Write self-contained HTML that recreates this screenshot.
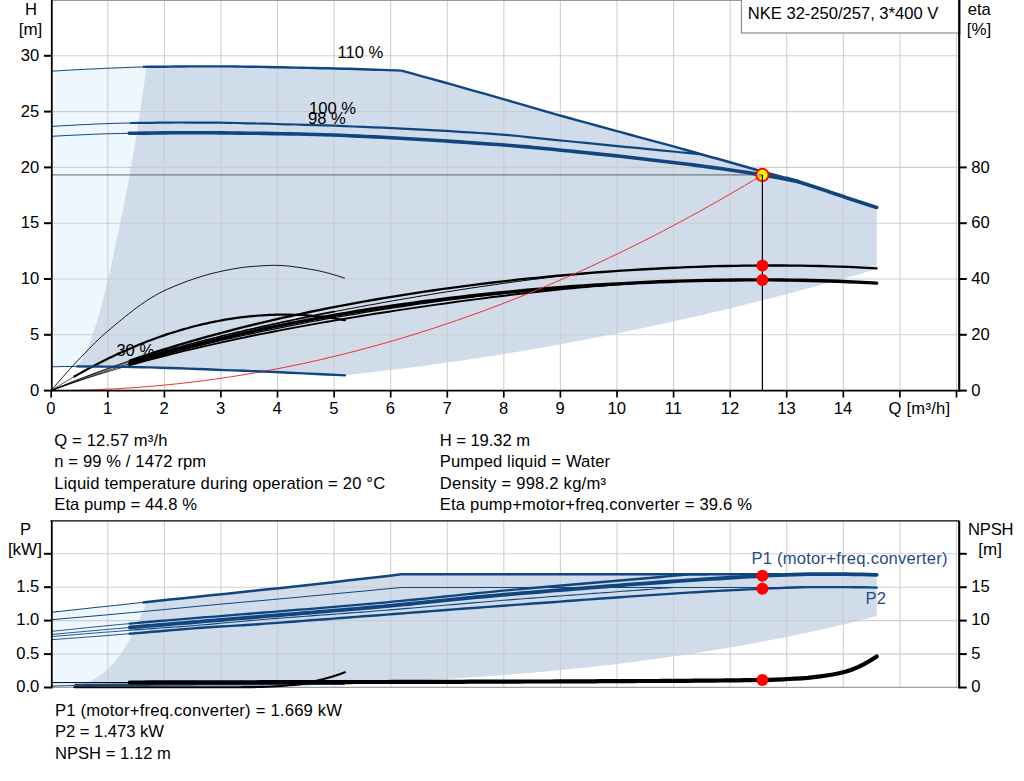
<!DOCTYPE html>
<html><head><meta charset="utf-8"><title>Pump curve</title>
<style>html,body{margin:0;padding:0;background:#fff;}svg{display:block;}text{font-family:"Liberation Sans",sans-serif;}</style></head>
<body>
<svg width="1024" height="781" viewBox="0 0 1024 781" font-family="'Liberation Sans', sans-serif" font-size="16.6">
<rect width="1024" height="781" fill="#fff"/>
<polygon points="51.2,71.2 53.6,71.0 56.1,70.9 58.5,70.7 60.9,70.6 63.4,70.4 65.8,70.3 68.3,70.2 70.7,70.0 73.1,69.9 75.6,69.8 78.0,69.6 80.4,69.5 82.9,69.4 85.3,69.3 87.8,69.2 90.2,69.0 92.6,68.9 95.1,68.8 97.5,68.7 99.9,68.6 102.4,68.5 104.8,68.4 107.3,68.3 109.7,68.2 112.1,68.1 114.6,68.0 117.0,67.9 119.4,67.7 121.9,67.6 124.3,67.5 126.8,67.4 129.2,67.3 131.6,67.3 134.1,67.2 136.5,67.1 138.9,67.0 141.4,67.0 143.8,66.9 146.3,66.9 146.3,66.9 145.6,72.0 144.9,77.1 144.3,82.2 143.6,87.2 142.9,92.3 142.2,97.4 141.4,102.5 140.7,107.6 139.9,112.7 139.2,117.7 138.4,122.8 137.6,127.9 136.8,133.0 136.0,138.1 135.1,143.1 134.3,148.2 133.4,153.3 132.5,158.4 131.6,163.5 130.7,168.6 129.8,173.6 128.8,178.7 127.9,183.8 126.9,188.9 125.9,194.0 125.0,199.1 124.0,204.1 123.0,209.2 122.0,214.3 120.9,219.4 119.9,224.5 118.8,229.6 117.8,234.6 116.7,239.7 115.6,244.8 114.5,249.9 113.5,255.0 112.4,260.0 111.3,265.1 110.2,270.2 109.0,275.3 107.8,280.4 106.5,285.5 105.3,290.5 104.0,295.6 102.7,300.7 101.4,305.8 100.0,310.9 98.6,316.0 97.1,321.0 95.5,326.1 93.8,331.2 91.9,336.3 90.1,341.4 88.0,346.4 85.8,351.5 83.3,356.6 80.4,361.7 77.2,366.8 51.2,366.8" fill="#eef6fe"/>
<polygon points="146.3,66.9 152.8,66.8 159.3,66.7 165.9,66.6 172.4,66.6 179.0,66.5 185.5,66.4 192.1,66.4 198.6,66.4 205.1,66.4 211.7,66.4 218.2,66.4 224.8,66.4 231.3,66.5 237.9,66.5 244.4,66.6 250.9,66.7 257.5,66.8 264.0,67.0 270.6,67.1 277.1,67.2 283.7,67.3 290.2,67.5 296.7,67.6 303.3,67.8 309.8,67.9 316.4,68.0 322.9,68.2 329.5,68.3 336.0,68.5 342.5,68.7 349.1,68.9 355.6,69.1 362.2,69.3 368.7,69.5 375.3,69.7 381.8,69.9 388.3,70.1 394.9,70.4 401.4,70.6 401.4,70.6 409.5,72.8 417.5,75.0 425.6,77.2 433.7,79.5 441.7,81.7 449.8,84.0 457.8,86.2 465.9,88.5 473.9,90.8 482.0,93.1 490.0,95.4 498.1,97.6 506.2,100.0 514.2,102.3 522.3,104.7 530.3,107.0 538.4,109.4 546.4,111.7 554.5,113.9 562.5,116.2 570.6,118.4 578.7,120.7 586.7,122.9 594.8,125.1 602.8,127.3 610.9,129.4 618.9,131.6 627.0,133.8 635.0,136.0 643.1,138.2 651.1,140.4 659.2,142.6 667.3,144.8 675.3,147.0 683.4,149.2 691.4,151.5 699.5,153.7 707.5,156.0 715.6,158.3 723.6,160.6 731.7,162.9 739.8,165.2 747.8,167.5 755.9,169.7 763.9,172.0 772.0,174.3 780.0,176.5 788.1,178.7 796.1,181.1 804.2,183.5 812.3,186.2 820.3,188.9 828.4,191.6 836.4,194.3 844.5,197.0 852.5,199.6 860.6,202.2 868.6,204.8 876.7,207.4 876.7,268.9 867.7,271.6 858.7,274.2 849.7,276.8 840.6,279.3 831.6,281.8 822.6,284.3 813.6,286.8 804.6,289.2 795.6,291.7 786.6,294.0 777.5,296.4 768.5,298.7 759.5,301.0 750.5,303.3 741.5,305.5 732.5,307.7 723.5,309.9 714.4,312.0 705.4,314.2 696.4,316.2 687.4,318.3 678.4,320.3 669.4,322.3 660.4,324.3 651.3,326.3 642.3,328.2 633.3,330.1 624.3,331.9 615.3,333.8 606.3,335.6 597.3,337.3 588.2,339.1 579.2,340.8 570.2,342.5 561.2,344.1 552.2,345.8 543.2,347.4 534.2,348.9 525.1,350.5 516.1,352.0 507.1,353.5 498.1,354.9 489.1,356.3 480.1,357.7 471.1,359.1 462.0,360.4 453.0,361.7 444.0,363.0 435.0,364.3 426.0,365.5 417.0,366.7 408.0,367.8 398.9,369.0 389.9,370.1 380.9,371.1 371.9,372.2 362.9,373.2 353.9,374.2 344.9,375.2 344.9,375.4 338.0,375.0 331.1,374.7 324.3,374.3 317.4,374.0 310.5,373.7 303.7,373.4 296.8,373.1 290.0,372.7 283.1,372.4 276.2,372.1 269.4,371.8 262.5,371.6 255.6,371.3 248.8,371.0 241.9,370.7 235.1,370.4 228.2,370.2 221.3,369.9 214.5,369.7 207.6,369.4 200.7,369.1 193.9,368.9 187.0,368.6 180.2,368.3 173.3,368.1 166.4,367.9 159.6,367.7 152.7,367.5 145.8,367.3 139.0,367.2 132.1,367.0 125.3,366.9 118.4,366.8 111.5,366.7 104.7,366.6 97.8,366.6 91.0,366.5 84.1,366.5 77.2,366.4 77.2,366.8 80.4,361.7 83.3,356.6 85.8,351.5 88.0,346.4 90.1,341.4 91.9,336.3 93.8,331.2 95.5,326.1 97.1,321.0 98.6,316.0 100.0,310.9 101.4,305.8 102.7,300.7 104.0,295.6 105.3,290.5 106.5,285.5 107.8,280.4 109.0,275.3 110.2,270.2 111.3,265.1 112.4,260.0 113.5,255.0 114.5,249.9 115.6,244.8 116.7,239.7 117.8,234.6 118.8,229.6 119.9,224.5 120.9,219.4 122.0,214.3 123.0,209.2 124.0,204.1 125.0,199.1 125.9,194.0 126.9,188.9 127.9,183.8 128.8,178.7 129.8,173.6 130.7,168.6 131.6,163.5 132.5,158.4 133.4,153.3 134.3,148.2 135.1,143.1 136.0,138.1 136.8,133.0 137.6,127.9 138.4,122.8 139.2,117.7 139.9,112.7 140.7,107.6 141.4,102.5 142.2,97.4 142.9,92.3 143.6,87.2 144.3,82.2 144.9,77.1 145.6,72.0 146.3,66.9" fill="#d0dce9"/>
<line x1="107.8" y1="0" x2="107.8" y2="390.6" stroke="#c9cccf" stroke-width="1.1" opacity="0.9"/>
<line x1="164.4" y1="0" x2="164.4" y2="390.6" stroke="#c9cccf" stroke-width="1.1" opacity="0.9"/>
<line x1="220.9" y1="0" x2="220.9" y2="390.6" stroke="#c9cccf" stroke-width="1.1" opacity="0.9"/>
<line x1="277.5" y1="0" x2="277.5" y2="390.6" stroke="#c9cccf" stroke-width="1.1" opacity="0.9"/>
<line x1="334.1" y1="0" x2="334.1" y2="390.6" stroke="#c9cccf" stroke-width="1.1" opacity="0.9"/>
<line x1="390.7" y1="0" x2="390.7" y2="390.6" stroke="#c9cccf" stroke-width="1.1" opacity="0.9"/>
<line x1="447.3" y1="0" x2="447.3" y2="390.6" stroke="#c9cccf" stroke-width="1.1" opacity="0.9"/>
<line x1="503.8" y1="0" x2="503.8" y2="390.6" stroke="#c9cccf" stroke-width="1.1" opacity="0.9"/>
<line x1="560.4" y1="0" x2="560.4" y2="390.6" stroke="#c9cccf" stroke-width="1.1" opacity="0.9"/>
<line x1="617.0" y1="0" x2="617.0" y2="390.6" stroke="#c9cccf" stroke-width="1.1" opacity="0.9"/>
<line x1="673.6" y1="0" x2="673.6" y2="390.6" stroke="#c9cccf" stroke-width="1.1" opacity="0.9"/>
<line x1="730.2" y1="0" x2="730.2" y2="390.6" stroke="#c9cccf" stroke-width="1.1" opacity="0.9"/>
<line x1="786.7" y1="0" x2="786.7" y2="390.6" stroke="#c9cccf" stroke-width="1.1" opacity="0.9"/>
<line x1="843.3" y1="0" x2="843.3" y2="390.6" stroke="#c9cccf" stroke-width="1.1" opacity="0.9"/>
<line x1="899.9" y1="0" x2="899.9" y2="390.6" stroke="#c9cccf" stroke-width="1.1" opacity="0.9"/>
<line x1="956.5" y1="0" x2="956.5" y2="390.6" stroke="#c9cccf" stroke-width="1.1" opacity="0.9"/>
<line x1="51.2" y1="334.8" x2="959.2" y2="334.8" stroke="#c9cccf" stroke-width="1.1" opacity="0.9"/>
<line x1="51.2" y1="279.0" x2="959.2" y2="279.0" stroke="#c9cccf" stroke-width="1.1" opacity="0.9"/>
<line x1="51.2" y1="223.2" x2="959.2" y2="223.2" stroke="#c9cccf" stroke-width="1.1" opacity="0.9"/>
<line x1="51.2" y1="167.4" x2="959.2" y2="167.4" stroke="#c9cccf" stroke-width="1.1" opacity="0.9"/>
<line x1="51.2" y1="111.6" x2="959.2" y2="111.6" stroke="#c9cccf" stroke-width="1.1" opacity="0.9"/>
<line x1="51.2" y1="55.8" x2="959.2" y2="55.8" stroke="#c9cccf" stroke-width="1.1" opacity="0.9"/>
<line x1="51.2" y1="0.5" x2="959.2" y2="0.5" stroke="#9a9a9a" stroke-width="1"/>
<line x1="51.2" y1="174.9" x2="762.4" y2="174.9" stroke="#4c5258" stroke-width="1.9" opacity="0.5"/>
<polyline points="51.2,390.6 54.9,386.1 58.6,381.8 62.4,377.5 66.1,373.3 69.8,369.2 73.5,365.1 77.2,361.1 80.9,357.2 84.7,353.4 88.4,349.5 92.1,345.7 95.8,342.0 99.5,338.5 103.2,335.0 107.0,331.8 110.7,328.6 114.4,325.5 118.1,322.4 121.8,319.4 125.5,316.4 129.3,313.4 133.0,310.5 136.7,307.7 140.4,305.0 144.1,302.4 147.8,299.9 151.6,297.6 155.3,295.4 159.0,293.3 162.7,291.4 166.4,289.7 170.1,288.1 173.9,286.5 177.6,284.9 181.3,283.5 185.0,282.0 188.7,280.7 192.4,279.4 196.2,278.1 199.9,276.9 203.6,275.8 207.3,274.7 211.0,273.7 214.8,272.8 218.5,271.9 222.2,271.1 225.9,270.3 229.6,269.6 233.3,268.9 237.1,268.3 240.8,267.7 244.5,267.2 248.2,266.8 251.9,266.5 255.6,266.2 259.4,266.0 263.1,265.7 266.8,265.5 270.5,265.4 274.2,265.3 277.9,265.4 281.7,265.5 285.4,265.8 289.1,266.1 292.8,266.6 296.5,267.1 300.2,267.6 304.0,268.2 307.7,268.8 311.4,269.5 315.1,270.1 318.8,270.8 322.5,271.7 326.3,272.6 330.0,273.6 333.7,274.7 337.4,275.8 341.1,277.0 344.9,278.2" fill="none" stroke="#000" stroke-width="0.9" />
<polyline points="74.4,376.5 77.8,374.6 81.2,372.6 84.7,370.8 88.1,368.9 91.5,367.1 94.9,365.3 98.4,363.5 101.8,361.7 105.2,360.0 108.6,358.3 112.1,356.7 115.5,355.1 118.9,353.5 122.3,351.9 125.7,350.4 129.2,348.9 132.6,347.4 136.0,346.0 139.4,344.6 142.9,343.2 146.3,341.8 149.7,340.5 153.1,339.2 156.6,338.0 160.0,336.8 163.4,335.6 166.8,334.4 170.3,333.3 173.7,332.2 177.1,331.2 180.5,330.1 183.9,329.1 187.4,328.2 190.8,327.2 194.2,326.3 197.6,325.5 201.1,324.6 204.5,323.8 207.9,323.1 211.3,322.3 214.8,321.6 218.2,321.0 221.6,320.3 225.0,319.7 228.5,319.1 231.9,318.6 235.3,318.1 238.7,317.6 242.1,317.2 245.6,316.8 249.0,316.4 252.4,316.1 255.8,315.8 259.3,315.5 262.7,315.3 266.1,315.1 269.5,314.9 273.0,314.8 276.4,314.7 279.8,314.7 283.2,314.6 286.7,314.6 290.1,314.7 293.5,314.8 296.9,314.9 300.3,315.0 303.8,315.2 307.2,315.4 310.6,315.7 314.0,316.0 317.5,316.3 320.9,316.7 324.3,317.1 327.7,317.5 331.2,318.0 334.6,318.5 338.0,319.0 341.4,319.6 344.9,320.2" fill="none" stroke="#000" stroke-width="2.2" stroke-linecap="round"/>
<polyline points="51.2,390.5 51.5,390.3 51.8,390.2 52.1,390.0 52.4,389.8 52.7,389.6 53.0,389.4 53.3,389.2 53.5,389.0 53.8,388.9 54.1,388.7 54.4,388.5 54.7,388.3 55.0,388.1 55.3,387.9 55.6,387.8 55.9,387.6 56.2,387.4 56.5,387.2 56.8,387.0 57.1,386.9 57.4,386.7 57.7,386.5 58.0,386.3 58.2,386.1 58.5,386.0 58.8,385.8 59.1,385.6 59.4,385.4 59.7,385.2 60.0,385.1 60.3,384.9 60.6,384.7 60.9,384.5 61.2,384.3 61.5,384.2 61.8,384.0 62.1,383.8 62.4,383.6 62.7,383.4 62.9,383.3 63.2,383.1 63.5,382.9 63.8,382.7 64.1,382.6 64.4,382.4 64.7,382.2 65.0,382.0 65.3,381.9 65.6,381.7 65.9,381.5 66.2,381.3 66.5,381.2 66.8,381.0 67.1,380.8 67.4,380.6 67.6,380.5 67.9,380.3 68.2,380.1 68.5,379.9 68.8,379.8 69.1,379.6 69.4,379.4 69.7,379.3 70.0,379.1 70.3,378.9 70.6,378.7 70.9,378.6 71.2,378.4 71.5,378.2 71.8,378.1 72.0,377.9 72.3,377.7 72.6,377.5 72.9,377.4 73.2,377.2 73.5,377.0 73.8,376.9 74.1,376.7 74.4,376.5" fill="none" stroke="#000" stroke-width="0.8" />
<polyline points="51.2,390.6 52.2,390.2 53.2,389.7 54.2,389.3 55.2,388.9 56.2,388.5 57.2,388.1 58.2,387.7 59.2,387.2 60.2,386.8 61.2,386.4 62.2,386.0 63.1,385.6 64.1,385.2 65.1,384.8 66.1,384.4 67.1,384.0 68.1,383.6 69.1,383.2 70.1,382.8 71.1,382.4 72.1,382.0 73.1,381.6 74.1,381.2 75.1,380.8 76.1,380.4 77.1,380.0 78.1,379.6 79.1,379.2 80.1,378.8 81.1,378.4 82.1,378.1 83.1,377.7 84.1,377.3 85.0,376.9 86.0,376.5 87.0,376.1 88.0,375.7 89.0,375.4 90.0,375.0 91.0,374.6 92.0,374.2 93.0,373.8 94.0,373.5 95.0,373.1 96.0,372.7 97.0,372.4 98.0,372.0 99.0,371.6 100.0,371.2 101.0,370.9 102.0,370.5 103.0,370.1 104.0,369.8 105.0,369.4 106.0,369.0 106.9,368.7 107.9,368.3 108.9,368.0 109.9,367.6 110.9,367.2 111.9,366.9 112.9,366.5 113.9,366.2 114.9,365.8 115.9,365.5 116.9,365.1 117.9,364.7 118.9,364.4 119.9,364.0 120.9,363.7 121.9,363.3 122.9,363.0 123.9,362.7 124.9,362.3 125.9,362.0 126.9,361.6 127.9,361.3 128.9,360.9 129.8,360.6" fill="none" stroke="#000" stroke-width="0.8" />
<polyline points="51.2,390.6 52.2,390.2 53.2,389.7 54.2,389.3 55.2,388.9 56.2,388.5 57.2,388.1 58.2,387.7 59.2,387.3 60.2,386.9 61.2,386.5 62.2,386.1 63.1,385.7 64.1,385.3 65.1,384.9 66.1,384.5 67.1,384.1 68.1,383.7 69.1,383.3 70.1,382.9 71.1,382.5 72.1,382.2 73.1,381.8 74.1,381.4 75.1,381.0 76.1,380.6 77.1,380.2 78.1,379.9 79.1,379.5 80.1,379.1 81.1,378.7 82.1,378.4 83.1,378.0 84.1,377.6 85.0,377.2 86.0,376.9 87.0,376.5 88.0,376.1 89.0,375.8 90.0,375.4 91.0,375.0 92.0,374.7 93.0,374.3 94.0,374.0 95.0,373.6 96.0,373.2 97.0,372.9 98.0,372.5 99.0,372.2 100.0,371.8 101.0,371.5 102.0,371.1 103.0,370.8 104.0,370.4 105.0,370.1 106.0,369.7 106.9,369.4 107.9,369.1 108.9,368.7 109.9,368.4 110.9,368.0 111.9,367.7 112.9,367.4 113.9,367.0 114.9,366.7 115.9,366.4 116.9,366.0 117.9,365.7 118.9,365.4 119.9,365.0 120.9,364.7 121.9,364.4 122.9,364.0 123.9,363.7 124.9,363.4 125.9,363.1 126.9,362.8 127.9,362.4 128.9,362.1 129.8,361.8" fill="none" stroke="#000" stroke-width="0.8" />
<polyline points="51.2,390.6 52.2,390.2 53.2,389.8 54.2,389.4 55.2,389.0 56.2,388.7 57.2,388.3 58.2,387.9 59.2,387.6 60.2,387.2 61.2,386.8 62.2,386.4 63.1,386.1 64.1,385.7 65.1,385.3 66.1,385.0 67.1,384.6 68.1,384.3 69.1,383.9 70.1,383.5 71.1,383.2 72.1,382.8 73.1,382.5 74.1,382.1 75.1,381.7 76.1,381.4 77.1,381.0 78.1,380.7 79.1,380.3 80.1,380.0 81.1,379.6 82.1,379.3 83.1,378.9 84.1,378.6 85.0,378.2 86.0,377.9 87.0,377.5 88.0,377.2 89.0,376.9 90.0,376.5 91.0,376.2 92.0,375.8 93.0,375.5 94.0,375.2 95.0,374.8 96.0,374.5 97.0,374.1 98.0,373.8 99.0,373.5 100.0,373.1 101.0,372.8 102.0,372.5 103.0,372.2 104.0,371.8 105.0,371.5 106.0,371.2 106.9,370.8 107.9,370.5 108.9,370.2 109.9,369.9 110.9,369.5 111.9,369.2 112.9,368.9 113.9,368.6 114.9,368.3 115.9,367.9 116.9,367.6 117.9,367.3 118.9,367.0 119.9,366.7 120.9,366.3 121.9,366.0 122.9,365.7 123.9,365.4 124.9,365.1 125.9,364.8 126.9,364.5 127.9,364.2 128.9,363.9 129.8,363.5" fill="none" stroke="#000" stroke-width="0.8" />
<polyline points="51.2,390.5 52.2,390.2 53.2,389.8 54.2,389.5 55.2,389.1 56.2,388.7 57.2,388.4 58.2,388.0 59.2,387.7 60.2,387.3 61.2,387.0 62.2,386.6 63.1,386.3 64.1,385.9 65.1,385.6 66.1,385.2 67.1,384.9 68.1,384.5 69.1,384.2 70.1,383.9 71.1,383.5 72.1,383.2 73.1,382.8 74.1,382.5 75.1,382.2 76.1,381.8 77.1,381.5 78.1,381.2 79.1,380.8 80.1,380.5 81.1,380.2 82.1,379.8 83.1,379.5 84.1,379.2 85.0,378.9 86.0,378.5 87.0,378.2 88.0,377.9 89.0,377.6 90.0,377.3 91.0,376.9 92.0,376.6 93.0,376.3 94.0,376.0 95.0,375.7 96.0,375.3 97.0,375.0 98.0,374.7 99.0,374.4 100.0,374.1 101.0,373.8 102.0,373.5 103.0,373.2 104.0,372.9 105.0,372.6 106.0,372.3 106.9,372.0 107.9,371.7 108.9,371.4 109.9,371.1 110.9,370.8 111.9,370.5 112.9,370.2 113.9,369.9 114.9,369.6 115.9,369.3 116.9,369.0 117.9,368.7 118.9,368.4 119.9,368.1 120.9,367.8 121.9,367.5 122.9,367.2 123.9,366.9 124.9,366.7 125.9,366.4 126.9,366.1 127.9,365.8 128.9,365.5 129.8,365.2" fill="none" stroke="#000" stroke-width="0.8" />
<polyline points="129.8,361.8 132.4,361.0 135.0,360.2 137.6,359.3 140.2,358.5 142.8,357.7 145.4,356.9 147.9,356.2 150.5,355.4 153.1,354.6 155.7,353.8 158.3,353.1 160.9,352.3 163.5,351.6 166.0,350.8 168.6,350.1 171.2,349.4 173.8,348.6 176.4,347.9 179.0,347.2 181.6,346.5 184.1,345.8 186.7,345.1 189.3,344.4 191.9,343.7 194.5,343.0 197.1,342.3 199.7,341.7 202.2,341.0 204.8,340.3 207.4,339.7 210.0,339.0 212.6,338.4 215.2,337.7 217.8,337.1 220.3,336.4 222.9,335.8 225.5,335.2 228.1,334.5 230.7,333.9 233.3,333.3 235.9,332.7 238.4,332.1 241.0,331.5 243.6,330.8 246.2,330.2 248.8,329.7 251.4,329.1 253.9,328.5 256.5,327.9 259.1,327.3 261.7,326.7 264.3,326.1 266.9,325.6 269.5,325.0 272.0,324.4 274.6,323.9 277.2,323.3 279.8,322.8 282.4,322.2 285.0,321.6 287.6,321.1 290.1,320.6 292.7,320.0 295.3,319.5 297.9,318.9 300.5,318.4 303.1,317.9 305.7,317.3 308.2,316.8 310.8,316.3 313.4,315.8 316.0,315.2 318.6,314.7 321.2,314.2 323.8,313.7 326.3,313.2 328.9,312.7 331.5,312.2 334.1,311.7" fill="none" stroke="#000" stroke-width="1.7" stroke-linecap="round"/>
<polyline points="334.1,311.7 337.5,311.0 341.0,310.4 344.4,309.7 347.9,309.0 351.3,308.4 354.7,307.8 358.2,307.1 361.6,306.5 365.0,305.8 368.5,305.2 371.9,304.6 375.4,304.0 378.8,303.4 382.2,302.7 385.7,302.1 389.1,301.5 392.5,300.9 396.0,300.3 399.4,299.7 402.9,299.1 406.3,298.5 409.7,298.0 413.2,297.4 416.6,296.8 420.0,296.2 423.5,295.6 426.9,295.1 430.4,294.5 433.8,293.9 437.2,293.4 440.7,292.8 444.1,292.3 447.5,291.7 451.0,291.2 454.4,290.7 457.9,290.1 461.3,289.6 464.7,289.1 468.2,288.5 471.6,288.0 475.0,287.5 478.5,287.0 481.9,286.5 485.4,286.0 488.8,285.5 492.2,285.0 495.7,284.5 499.1,284.0 502.6,283.5 506.0,283.0 509.4,282.6 512.9,282.1 516.3,281.6 519.7,281.2 523.2,280.7 526.6,280.3 530.1,279.8 533.5,279.4 536.9,279.0 540.4,278.5 543.8,278.1 547.2,277.7 550.7,277.3 554.1,276.9 557.6,276.5 561.0,276.1 564.4,275.7 567.9,275.3 571.3,275.0 574.7,274.6 578.2,274.2 581.6,273.9 585.1,273.5 588.5,273.2 591.9,272.9 595.4,272.5 598.8,272.2 602.2,271.9 605.7,271.6" fill="none" stroke="#000" stroke-width="1.0" stroke-linecap="round"/>
<polyline points="129.8,364.4 136.2,362.5 142.5,360.7 148.8,358.9 155.1,357.1 161.4,355.4 167.7,353.7 174.0,352.1 180.3,350.4 186.6,348.8 192.9,347.2 199.3,345.7 205.6,344.2 211.9,342.6 218.2,341.2 224.5,339.7 230.8,338.3 237.1,336.9 243.4,335.5 249.7,334.1 256.0,332.8 262.4,331.4 268.7,330.1 275.0,328.9 281.3,327.6 287.6,326.3 293.9,325.1 300.2,323.9 306.5,322.7 312.8,321.5 319.1,320.4 325.4,319.2 331.8,318.1 338.1,317.0 344.4,315.9 350.7,314.8 357.0,313.8 363.3,312.7 369.6,311.7 375.9,310.7 382.2,309.7 388.5,308.7 394.9,307.7 401.2,306.8 407.5,305.9 413.8,304.9 420.1,304.0 426.4,303.1 432.7,302.2 439.0,301.4 445.3,300.5 451.6,299.7 458.0,298.9 464.3,298.1 470.6,297.3 476.9,296.5 483.2,295.7 489.5,295.0 495.8,294.3 502.1,293.6 508.4,292.9 514.7,292.2 521.1,291.5 527.4,290.9 533.7,290.3 540.0,289.7 546.3,289.1 552.6,288.5 558.9,287.9 565.2,287.4 571.5,286.9 577.8,286.4 584.1,285.9 590.5,285.5 596.8,285.0 603.1,284.6 609.4,284.2 615.7,283.9 622.0,283.5 628.3,283.2" fill="none" stroke="#000" stroke-width="1.2" stroke-linecap="round"/>
<polyline points="129.8,365.2 136.7,363.3 143.5,361.4 150.3,359.6 157.1,357.8 163.9,356.0 170.7,354.3 177.5,352.6 184.3,350.9 191.1,349.3 198.0,347.7 204.8,346.1 211.6,344.6 218.4,343.1 225.2,341.6 232.0,340.1 238.8,338.6 245.6,337.2 252.4,335.8 259.3,334.4 266.1,333.1 272.9,331.8 279.7,330.4 286.5,329.1 293.3,327.9 300.1,326.6 306.9,325.4 313.7,324.1 320.6,322.9 327.4,321.7 334.2,320.6 341.0,319.4 347.8,318.3 354.6,317.1 361.4,316.0 368.2,314.9 375.0,313.8 381.9,312.7 388.7,311.7 395.5,310.6 402.3,309.6 409.1,308.6 415.9,307.6 422.7,306.6 429.5,305.6 436.3,304.6 443.2,303.7 450.0,302.7 456.8,301.8 463.6,300.9 470.4,300.0 477.2,299.1 484.0,298.2 490.8,297.3 497.6,296.5 504.5,295.7 511.3,294.8 518.1,294.0 524.9,293.3 531.7,292.5 538.5,291.7 545.3,291.0 552.1,290.3 558.9,289.6 565.8,288.9 572.6,288.2 579.4,287.6 586.2,287.0 593.0,286.4 599.8,285.8 606.6,285.2 613.4,284.7 620.2,284.2 627.1,283.7 633.9,283.2 640.7,282.8 647.5,282.4 654.3,282.0 661.1,281.7 667.9,281.4" fill="none" stroke="#000" stroke-width="1.9" stroke-linecap="round"/>
<polyline points="129.8,360.6 139.3,357.4 148.8,354.3 158.2,351.2 167.7,348.3 177.1,345.4 186.6,342.6 196.0,339.9 205.5,337.2 214.9,334.6 224.4,332.1 233.8,329.6 243.3,327.2 252.7,324.8 262.2,322.6 271.7,320.3 281.1,318.2 290.6,316.1 300.0,314.0 309.5,312.0 318.9,310.1 328.4,308.2 337.8,306.3 347.3,304.6 356.7,302.8 366.2,301.1 375.6,299.5 385.1,297.9 394.6,296.3 404.0,294.8 413.5,293.3 422.9,291.9 432.4,290.5 441.8,289.1 451.3,287.8 460.7,286.6 470.2,285.3 479.6,284.1 489.1,283.0 498.5,281.9 508.0,280.8 517.5,279.7 526.9,278.7 536.4,277.8 545.8,276.8 555.3,275.9 564.7,275.1 574.2,274.3 583.6,273.5 593.1,272.7 602.5,272.0 612.0,271.3 621.4,270.7 630.9,270.1 640.4,269.5 649.8,269.0 659.3,268.5 668.7,268.0 678.2,267.6 687.6,267.2 697.1,266.8 706.5,266.5 716.0,266.2 725.4,266.0 734.9,265.8 744.3,265.7 753.8,265.6 763.3,265.5 772.7,265.5 782.2,265.5 791.6,265.6 801.1,265.7 810.5,265.8 820.0,266.0 829.4,266.3 838.9,266.6 848.3,266.9 857.8,267.3 867.2,267.8 876.7,268.3" fill="none" stroke="#000" stroke-width="2.3" stroke-linecap="round"/>
<polyline points="129.8,363.5 139.3,360.7 148.8,357.9 158.2,355.1 167.7,352.4 177.1,349.8 186.6,347.3 196.0,344.8 205.5,342.4 214.9,340.1 224.4,337.8 233.8,335.6 243.3,333.4 252.7,331.3 262.2,329.2 271.7,327.2 281.1,325.3 290.6,323.4 300.0,321.6 309.5,319.8 318.9,318.0 328.4,316.3 337.8,314.7 347.3,313.1 356.7,311.5 366.2,310.0 375.6,308.5 385.1,307.1 394.6,305.7 404.0,304.4 413.5,303.1 422.9,301.8 432.4,300.6 441.8,299.4 451.3,298.2 460.7,297.1 470.2,296.0 479.6,295.0 489.1,294.0 498.5,293.0 508.0,292.1 517.5,291.2 526.9,290.3 536.4,289.5 545.8,288.7 555.3,288.0 564.7,287.2 574.2,286.5 583.6,285.9 593.1,285.3 602.5,284.7 612.0,284.1 621.4,283.6 630.9,283.1 640.4,282.6 649.8,282.2 659.3,281.8 668.7,281.5 678.2,281.1 687.6,280.9 697.1,280.6 706.5,280.4 716.0,280.2 725.4,280.1 734.9,280.0 744.3,279.9 753.8,279.9 763.3,279.9 772.7,279.9 782.2,280.0 791.6,280.1 801.1,280.3 810.5,280.5 820.0,280.7 829.4,281.0 838.9,281.3 848.3,281.7 857.8,282.1 867.2,282.6 876.7,283.1" fill="none" stroke="#000" stroke-width="3.4" stroke-linecap="round"/>
<polyline points="51.2,390.6 60.2,390.5 69.2,390.4 78.2,390.2 87.2,390.0 96.2,389.7 105.2,389.3 114.2,388.9 123.2,388.3 132.2,387.8 141.2,387.1 150.2,386.4 159.2,385.6 168.2,384.7 177.2,383.8 186.2,382.8 195.2,381.7 204.2,380.6 213.2,379.4 222.3,378.1 231.3,376.7 240.3,375.3 249.3,373.8 258.3,372.3 267.3,370.7 276.3,369.0 285.3,367.2 294.3,365.4 303.3,363.5 312.3,361.5 321.3,359.5 330.3,357.3 339.3,355.2 348.3,352.9 357.3,350.6 366.3,348.2 375.3,345.8 384.3,343.3 393.3,340.7 402.3,338.0 411.3,335.3 420.3,332.5 429.3,329.6 438.3,326.7 447.3,323.7 456.3,320.6 465.3,317.4 474.3,314.2 483.3,311.0 492.3,307.6 501.3,304.2 510.3,300.7 519.3,297.1 528.3,293.5 537.3,289.8 546.3,286.0 555.3,282.2 564.4,278.3 573.4,274.3 582.4,270.3 591.4,266.2 600.4,262.0 609.4,257.7 618.4,253.4 627.4,249.0 636.4,244.6 645.4,240.1 654.4,235.5 663.4,230.8 672.4,226.1 681.4,221.3 690.4,216.4 699.4,211.5 708.4,206.4 717.4,201.4 726.4,196.2 735.4,191.0 744.4,185.7 753.4,180.4 762.4,174.9" fill="none" stroke="#f03030" stroke-width="1.0" />
<polyline points="51.2,71.2 56.2,70.9 61.2,70.6 66.2,70.3 71.2,70.0 76.2,69.7 81.2,69.5 86.2,69.2 91.2,69.0 96.2,68.8 101.2,68.5 106.2,68.3 111.2,68.1 116.2,67.9 121.2,67.7 126.2,67.5 131.2,67.3 136.2,67.1 141.3,67.0 146.3,66.9" fill="none" stroke="#10457f" stroke-width="1.0" />
<polyline points="142.9,66.9 149.5,66.8 156.1,66.8 162.7,66.7 169.4,66.6 176.0,66.5 182.6,66.5 189.3,66.4 195.9,66.4 202.5,66.4 209.2,66.4 215.8,66.4 222.4,66.4 229.0,66.4 235.7,66.5 242.3,66.6 248.9,66.7 255.6,66.8 262.2,66.9 268.8,67.0 275.5,67.2 282.1,67.3 288.7,67.5 295.3,67.6 302.0,67.7 308.6,67.9 315.2,68.0 321.9,68.2 328.5,68.3 335.1,68.5 341.8,68.7 348.4,68.8 355.0,69.0 361.7,69.2 368.3,69.5 374.9,69.7 381.5,69.9 388.2,70.1 394.8,70.4 401.4,70.6 411.8,73.4 422.2,76.3 432.5,79.2 442.9,82.0 453.2,84.9 463.6,87.9 474.0,90.8 484.3,93.7 494.7,96.7 505.0,99.6 515.4,102.7 525.8,105.7 536.1,108.7 546.5,111.7 556.8,114.6 567.2,117.5 577.6,120.4 587.9,123.2 598.3,126.0 608.6,128.8 619.0,131.6 629.4,134.5 639.7,137.3 650.1,140.1 660.4,142.9 670.8,145.7 681.2,148.6 691.5,151.5 701.9,154.4" fill="none" stroke="#10457f" stroke-width="2.4" stroke-linejoin="round"/>
<polyline points="701.9,154.4 710.6,156.9 719.4,159.3 728.1,161.8 736.8,164.3 745.6,166.8 754.3,169.3 763.1,171.8 771.8,174.2 780.6,176.6 789.3,179.1 798.1,181.6" fill="none" stroke="#10457f" stroke-width="2.6" />
<polyline points="786.7,178.3 789.8,179.2 792.9,180.1 796.0,181.0 799.1,182.0 802.3,182.9 805.4,183.9 808.5,184.9 811.6,185.9 814.7,187.0 817.8,188.0 820.9,189.0 824.0,190.1 827.1,191.1 830.2,192.2 833.3,193.2 836.4,194.3 839.5,195.3 842.6,196.3 845.7,197.4 848.8,198.4 851.9,199.4 855.0,200.4 858.1,201.4 861.2,202.4 864.3,203.4 867.4,204.4 870.5,205.4 873.6,206.4 876.7,207.4" fill="none" stroke="#10457f" stroke-width="3.7" stroke-linecap="round"/>
<polyline points="51.2,126.4 60.1,125.9 68.9,125.4 77.8,124.9 86.7,124.5 95.5,124.1 104.4,123.7 113.2,123.4 122.1,123.2 131.0,123.0" fill="none" stroke="#10457f" stroke-width="1.0" />
<polyline points="131.0,123.0 140.7,122.9 150.3,122.8 160.0,122.7 169.7,122.6 179.4,122.5 189.0,122.5 198.7,122.5 208.4,122.6 218.1,122.7 227.7,122.8 237.4,123.0 247.1,123.3 256.8,123.5 266.4,123.7 276.1,124.0 285.8,124.3 295.5,124.5 305.1,124.8 314.8,125.1 324.5,125.4 334.2,125.7 343.9,126.1 353.5,126.5 363.2,126.9 372.9,127.3 382.6,127.7 392.2,128.1 401.9,128.6 411.6,129.1 421.3,129.6 430.9,130.1 440.6,130.7 450.3,131.2 460.0,131.8 469.6,132.4 479.3,133.0 489.0,133.7 498.7,134.3 508.3,135.1 518.0,136.0 527.7,137.1 537.4,138.1 547.1,139.1 556.7,140.1 566.4,141.0 576.1,142.0 585.8,142.9 595.4,143.9 605.1,144.9 614.8,145.8 624.5,146.8 634.1,147.7 643.8,148.7 653.5,149.6 663.2,150.6 672.8,151.5 682.5,152.5 692.2,153.4 701.9,154.4" fill="none" stroke="#10457f" stroke-width="2.25" stroke-linecap="round"/>
<polyline points="51.2,136.3 59.9,135.9 68.6,135.4 77.2,135.0 85.9,134.6 94.6,134.2 103.3,133.9 111.9,133.7 120.6,133.5 129.3,133.3" fill="none" stroke="#10457f" stroke-width="1.0" />
<polyline points="129.3,133.3 137.7,133.2 146.2,133.1 154.7,133.0 163.1,132.9 171.6,132.8 180.1,132.8 188.5,132.8 197.0,132.8 205.5,132.8 213.9,132.8 222.4,132.9 230.9,133.0 239.3,133.1 247.8,133.2 256.3,133.3 264.7,133.4 273.2,133.6 281.7,133.7 290.1,133.9 298.6,134.0 307.1,134.2 315.5,134.5 324.0,134.7 332.5,135.0 340.9,135.3 349.4,135.7 357.8,136.1 366.3,136.5 374.8,136.9 383.2,137.3 391.7,137.8 400.2,138.2 408.6,138.7 417.1,139.2 425.6,139.8 434.0,140.3 442.5,140.8 451.0,141.4 459.4,141.9 467.9,142.5 476.4,143.1 484.8,143.7 493.3,144.2 501.8,144.8 510.2,145.5 518.7,146.2 527.2,146.9 535.6,147.7 544.1,148.5 552.6,149.3 561.0,150.2 569.5,151.0 578.0,151.9 586.4,152.7 594.9,153.6 603.3,154.5 611.8,155.4 620.3,156.3 628.7,157.3 637.2,158.2 645.7,159.2 654.1,160.2 662.6,161.2 671.1,162.2 679.5,163.3 688.0,164.3 696.5,165.4 704.9,166.5 713.4,167.6 721.9,168.8 730.3,170.0 738.8,171.2 747.3,172.5 755.7,173.9 764.2,175.2 772.7,176.7 781.1,178.3 789.6,179.9 798.1,181.6" fill="none" stroke="#10457f" stroke-width="3.6" stroke-linecap="round"/>
<polyline points="51.2,366.8 57.7,366.7 64.2,366.5 70.7,366.5 77.2,366.4" fill="none" stroke="#10457f" stroke-width="1.0" />
<polyline points="77.2,366.4 86.5,366.5 95.7,366.5 104.9,366.6 114.1,366.8 123.4,366.9 132.6,367.1 141.8,367.2 151.1,367.4 160.3,367.7 169.5,368.0 178.7,368.3 188.0,368.6 197.2,369.0 206.4,369.3 215.7,369.7 224.9,370.1 234.1,370.4 243.3,370.8 252.6,371.1 261.8,371.5 271.0,371.9 280.3,372.3 289.5,372.7 298.7,373.1 307.9,373.6 317.2,374.0 326.4,374.5 335.6,374.9 344.9,375.4" fill="none" stroke="#10457f" stroke-width="2.4" stroke-linecap="round"/>
<circle cx="762.4" cy="174.9" r="6.2" fill="#ffee00" stroke="#f00" stroke-width="1.8"/>
<line x1="757.4" y1="174.9" x2="762.4" y2="174.9" stroke="#8a8f7a" stroke-width="1.4"/>
<line x1="758.0" y1="177.8" x2="762.4" y2="174.9" stroke="#f06030" stroke-width="1"/>
<line x1="762.4" y1="174.9" x2="762.4" y2="390.6" stroke="#000" stroke-width="1.2"/>
<circle cx="762.4" cy="265.6" r="6" fill="#f00"/>
<circle cx="762.4" cy="280.1" r="6" fill="#f00"/>
<text x="337.5" y="57.9" text-anchor="start" fill="#000" font-size="16.6">110 %</text>
<text x="309.0" y="114.0" text-anchor="start" fill="#000" font-size="16.6">100 %</text>
<text x="308.0" y="123.6" text-anchor="start" fill="#000" font-size="16.6">98 %</text>
<text x="116.4" y="355.6" text-anchor="start" fill="#000" font-size="16.6">30 %</text>
<line x1="51.8" y1="0" x2="51.8" y2="391.4" stroke="#000" stroke-width="1.8"/>
<line x1="50.3" y1="390.6" x2="960.1" y2="390.6" stroke="#000" stroke-width="1.6"/>
<line x1="959.2" y1="0" x2="959.2" y2="391.4" stroke="#000" stroke-width="2.1"/>
<line x1="51.2" y1="390.6" x2="51.2" y2="397.6" stroke="#000" stroke-width="1.7"/>
<text x="50.9" y="413.8" text-anchor="middle" fill="#000" font-size="16.6">0</text>
<line x1="107.8" y1="390.6" x2="107.8" y2="397.6" stroke="#000" stroke-width="1.7"/>
<text x="107.5" y="413.8" text-anchor="middle" fill="#000" font-size="16.6">1</text>
<line x1="164.4" y1="390.6" x2="164.4" y2="397.6" stroke="#000" stroke-width="1.7"/>
<text x="164.1" y="413.8" text-anchor="middle" fill="#000" font-size="16.6">2</text>
<line x1="220.9" y1="390.6" x2="220.9" y2="397.6" stroke="#000" stroke-width="1.7"/>
<text x="220.6" y="413.8" text-anchor="middle" fill="#000" font-size="16.6">3</text>
<line x1="277.5" y1="390.6" x2="277.5" y2="397.6" stroke="#000" stroke-width="1.7"/>
<text x="277.2" y="413.8" text-anchor="middle" fill="#000" font-size="16.6">4</text>
<line x1="334.1" y1="390.6" x2="334.1" y2="397.6" stroke="#000" stroke-width="1.7"/>
<text x="333.8" y="413.8" text-anchor="middle" fill="#000" font-size="16.6">5</text>
<line x1="390.7" y1="390.6" x2="390.7" y2="397.6" stroke="#000" stroke-width="1.7"/>
<text x="390.4" y="413.8" text-anchor="middle" fill="#000" font-size="16.6">6</text>
<line x1="447.3" y1="390.6" x2="447.3" y2="397.6" stroke="#000" stroke-width="1.7"/>
<text x="447.0" y="413.8" text-anchor="middle" fill="#000" font-size="16.6">7</text>
<line x1="503.8" y1="390.6" x2="503.8" y2="397.6" stroke="#000" stroke-width="1.7"/>
<text x="503.5" y="413.8" text-anchor="middle" fill="#000" font-size="16.6">8</text>
<line x1="560.4" y1="390.6" x2="560.4" y2="397.6" stroke="#000" stroke-width="1.7"/>
<text x="560.1" y="413.8" text-anchor="middle" fill="#000" font-size="16.6">9</text>
<line x1="617.0" y1="390.6" x2="617.0" y2="397.6" stroke="#000" stroke-width="1.7"/>
<text x="616.7" y="413.8" text-anchor="middle" fill="#000" font-size="16.6">10</text>
<line x1="673.6" y1="390.6" x2="673.6" y2="397.6" stroke="#000" stroke-width="1.7"/>
<text x="673.3" y="413.8" text-anchor="middle" fill="#000" font-size="16.6">11</text>
<line x1="730.2" y1="390.6" x2="730.2" y2="397.6" stroke="#000" stroke-width="1.7"/>
<text x="729.9" y="413.8" text-anchor="middle" fill="#000" font-size="16.6">12</text>
<line x1="786.7" y1="390.6" x2="786.7" y2="397.6" stroke="#000" stroke-width="1.7"/>
<text x="786.4" y="413.8" text-anchor="middle" fill="#000" font-size="16.6">13</text>
<line x1="843.3" y1="390.6" x2="843.3" y2="397.6" stroke="#000" stroke-width="1.7"/>
<text x="843.0" y="413.8" text-anchor="middle" fill="#000" font-size="16.6">14</text>
<line x1="899.9" y1="390.6" x2="899.9" y2="397.6" stroke="#000" stroke-width="1.7"/>
<line x1="956.5" y1="390.6" x2="956.5" y2="397.6" stroke="#000" stroke-width="1.7"/>
<text x="888.6" y="413.8" text-anchor="start" fill="#000" font-size="16.6" letter-spacing="0.214">Q [m³/h]</text>
<line x1="44.0" y1="390.6" x2="51.2" y2="390.6" stroke="#000" stroke-width="2"/>
<text x="39.3" y="395.7" text-anchor="end" fill="#000" font-size="16.6">0</text>
<line x1="44.0" y1="334.8" x2="51.2" y2="334.8" stroke="#000" stroke-width="2"/>
<text x="39.3" y="339.9" text-anchor="end" fill="#000" font-size="16.6">5</text>
<line x1="44.0" y1="279.0" x2="51.2" y2="279.0" stroke="#000" stroke-width="2"/>
<text x="39.3" y="284.1" text-anchor="end" fill="#000" font-size="16.6">10</text>
<line x1="44.0" y1="223.2" x2="51.2" y2="223.2" stroke="#000" stroke-width="2"/>
<text x="39.3" y="228.2" text-anchor="end" fill="#000" font-size="16.6">15</text>
<line x1="44.0" y1="167.4" x2="51.2" y2="167.4" stroke="#000" stroke-width="2"/>
<text x="39.3" y="172.5" text-anchor="end" fill="#000" font-size="16.6">20</text>
<line x1="44.0" y1="111.6" x2="51.2" y2="111.6" stroke="#000" stroke-width="2"/>
<text x="39.3" y="116.7" text-anchor="end" fill="#000" font-size="16.6">25</text>
<line x1="44.0" y1="55.8" x2="51.2" y2="55.8" stroke="#000" stroke-width="2"/>
<text x="39.3" y="60.9" text-anchor="end" fill="#000" font-size="16.6">30</text>
<line x1="959.2" y1="390.6" x2="966.8" y2="390.6" stroke="#000" stroke-width="2"/>
<text x="971.3" y="395.7" text-anchor="start" fill="#000" font-size="16.6">0</text>
<line x1="959.2" y1="334.8" x2="966.8" y2="334.8" stroke="#000" stroke-width="2"/>
<text x="971.3" y="339.9" text-anchor="start" fill="#000" font-size="16.6">20</text>
<line x1="959.2" y1="279.0" x2="966.8" y2="279.0" stroke="#000" stroke-width="2"/>
<text x="971.3" y="284.1" text-anchor="start" fill="#000" font-size="16.6">40</text>
<line x1="959.2" y1="223.2" x2="966.8" y2="223.2" stroke="#000" stroke-width="2"/>
<text x="971.3" y="228.2" text-anchor="start" fill="#000" font-size="16.6">60</text>
<line x1="959.2" y1="167.4" x2="966.8" y2="167.4" stroke="#000" stroke-width="2"/>
<text x="971.3" y="172.5" text-anchor="start" fill="#000" font-size="16.6">80</text>
<text x="31.0" y="14.6" text-anchor="middle" fill="#000" font-size="16.6">H</text>
<text x="30.5" y="34.6" text-anchor="middle" fill="#000" font-size="17">[m]</text>
<text x="979.2" y="14.6" text-anchor="middle" fill="#000" font-size="16.6">eta</text>
<text x="979.0" y="34.6" text-anchor="middle" fill="#000" font-size="17">[%]</text>
<rect x="741.5" y="-1" width="217.8" height="34.0" fill="#fff" stroke="#969696" stroke-width="1.3"/>
<line x1="959.2" y1="0" x2="959.2" y2="35" stroke="#000" stroke-width="2.1"/>
<text x="747.8" y="18.8" text-anchor="start" fill="#000" font-size="16.6" letter-spacing="-0.023">NKE 32-250/257, 3*400 V</text>
<text x="54.3" y="445.6" text-anchor="start" fill="#000" font-size="16.6" letter-spacing="0.154">Q = 12.57 m³/h</text>
<text x="439.8" y="445.6" text-anchor="start" fill="#000" font-size="16.6" letter-spacing="-0.065">H = 19.32 m</text>
<text x="54.3" y="467.1" text-anchor="start" fill="#000" font-size="16.6" letter-spacing="0.111">n = 99 % / 1472 rpm</text>
<text x="439.8" y="467.1" text-anchor="start" fill="#000" font-size="16.6" letter-spacing="0.128">Pumped liquid = Water</text>
<text x="54.3" y="488.5" text-anchor="start" fill="#000" font-size="16.6" letter-spacing="0.175">Liquid temperature during operation = 20 °C</text>
<text x="439.8" y="488.5" text-anchor="start" fill="#000" font-size="16.6" letter-spacing="0.215">Density = 998.2 kg/m³</text>
<text x="54.3" y="510.0" text-anchor="start" fill="#000" font-size="16.6" letter-spacing="0.062">Eta pump = 44.8 %</text>
<text x="439.8" y="510.0" text-anchor="start" fill="#000" font-size="16.6" letter-spacing="0.173">Eta pump+motor+freq.converter = 39.6 %</text>
<text x="54.9" y="716.0" text-anchor="start" fill="#000" font-size="16.6" letter-spacing="0.220">P1 (motor+freq.converter) = 1.669 kW</text>
<text x="54.9" y="737.4" text-anchor="start" fill="#000" font-size="16.6" letter-spacing="-0.029">P2 = 1.473 kW</text>
<text x="54.9" y="758.8" text-anchor="start" fill="#000" font-size="16.6" letter-spacing="0.017">NPSH = 1.12 m</text>
<polygon points="51.2,612.3 54.5,611.9 57.7,611.6 61.0,611.2 64.3,610.9 67.5,610.5 70.8,610.2 74.1,609.8 77.3,609.5 80.6,609.1 83.9,608.8 87.1,608.4 90.4,608.1 93.7,607.7 97.0,607.4 100.2,607.0 103.5,606.7 106.8,606.3 110.0,606.0 113.3,605.6 116.6,605.3 119.8,604.9 123.1,604.6 126.4,604.2 129.6,603.9 132.9,603.5 136.2,603.2 139.4,602.8 142.7,602.5 146.0,602.1 146.0,603.4 144.0,608.4 142.1,613.1 140.2,617.7 138.3,622.1 136.4,626.2 134.4,630.2 132.5,634.1 130.6,637.7 128.7,641.2 126.7,644.5 124.8,647.6 122.9,650.6 121.0,653.4 119.1,656.1 117.1,658.6 115.2,661.0 113.3,663.2 111.4,665.3 109.4,667.3 107.5,669.1 105.6,670.9 103.7,672.5 101.8,674.0 99.8,675.4 97.9,676.6 96.0,677.8 94.1,678.9 92.1,679.9 90.2,680.8 88.3,681.6 86.4,682.3 84.5,683.0 82.5,683.6 80.6,684.1 78.7,684.6 76.8,685.0 74.8,685.3 72.9,685.6 71.0,685.8 51.2,686.6" fill="#eef6fe"/>
<polygon points="146.0,602.1 154.8,601.2 163.6,600.3 172.4,599.3 181.2,598.4 190.0,597.5 198.8,596.6 207.6,595.6 216.4,594.7 225.3,593.8 234.1,592.9 242.9,592.0 251.7,591.1 260.5,590.1 269.3,589.2 278.1,588.3 286.9,587.3 295.7,586.3 304.5,585.4 313.3,584.4 322.1,583.4 331.0,582.4 339.8,581.4 348.6,580.4 357.4,579.4 366.2,578.4 375.0,577.4 383.8,576.3 392.6,575.3 401.4,574.3 781.1,574.3 781.1,575.0 786.1,574.8 791.1,574.7 796.2,574.5 801.2,574.4 806.2,574.3 811.3,574.2 816.3,574.1 821.3,574.1 826.4,574.1 831.4,574.1 836.4,574.1 841.5,574.2 846.5,574.2 851.5,574.3 856.6,574.3 861.6,574.4 866.6,574.5 871.7,574.6 876.7,574.8 876.7,616.3 867.7,618.6 858.7,620.8 849.7,623.0 840.6,625.1 831.6,627.2 822.6,629.2 813.6,631.2 804.6,633.1 795.6,635.0 786.6,636.9 777.5,638.7 768.5,640.5 759.5,642.2 750.5,643.9 741.5,645.5 732.5,647.1 723.5,648.6 714.4,650.1 705.4,651.6 696.4,653.0 687.4,654.4 678.4,655.8 669.4,657.1 660.4,658.3 651.3,659.6 642.3,660.8 633.3,661.9 624.3,663.1 615.3,664.2 606.3,665.2 597.3,666.2 588.2,667.2 579.2,668.2 570.2,669.1 561.2,670.0 552.2,670.9 543.2,671.7 534.2,672.5 525.1,673.3 516.1,674.0 507.1,674.8 498.1,675.4 489.1,676.1 480.1,676.7 471.1,677.3 462.0,677.9 453.0,678.5 444.0,679.0 435.0,679.5 426.0,680.0 417.0,680.5 408.0,680.9 398.9,681.3 389.9,681.7 380.9,682.1 371.9,682.5 362.9,682.8 353.9,683.1 344.9,683.4 71.0,686.6 71.0,685.8 72.9,685.6 74.8,685.3 76.8,685.0 78.7,684.6 80.6,684.1 82.5,683.6 84.5,683.0 86.4,682.3 88.3,681.6 90.2,680.8 92.1,679.9 94.1,678.9 96.0,677.8 97.9,676.6 99.8,675.4 101.8,674.0 103.7,672.5 105.6,670.9 107.5,669.1 109.4,667.3 111.4,665.3 113.3,663.2 115.2,661.0 117.1,658.6 119.1,656.1 121.0,653.4 122.9,650.6 124.8,647.6 126.7,644.5 128.7,641.2 130.6,637.7 132.5,634.1 134.4,630.2 136.4,626.2 138.3,622.1 140.2,617.7 142.1,613.1 144.0,608.4 146.0,603.4" fill="#d0dce9"/>
<line x1="107.8" y1="520.8" x2="107.8" y2="687.5" stroke="#c9cccf" stroke-width="1.1" opacity="0.9"/>
<line x1="164.4" y1="520.8" x2="164.4" y2="687.5" stroke="#c9cccf" stroke-width="1.1" opacity="0.9"/>
<line x1="220.9" y1="520.8" x2="220.9" y2="687.5" stroke="#c9cccf" stroke-width="1.1" opacity="0.9"/>
<line x1="277.5" y1="520.8" x2="277.5" y2="687.5" stroke="#c9cccf" stroke-width="1.1" opacity="0.9"/>
<line x1="334.1" y1="520.8" x2="334.1" y2="687.5" stroke="#c9cccf" stroke-width="1.1" opacity="0.9"/>
<line x1="390.7" y1="520.8" x2="390.7" y2="687.5" stroke="#c9cccf" stroke-width="1.1" opacity="0.9"/>
<line x1="447.3" y1="520.8" x2="447.3" y2="687.5" stroke="#c9cccf" stroke-width="1.1" opacity="0.9"/>
<line x1="503.8" y1="520.8" x2="503.8" y2="687.5" stroke="#c9cccf" stroke-width="1.1" opacity="0.9"/>
<line x1="560.4" y1="520.8" x2="560.4" y2="687.5" stroke="#c9cccf" stroke-width="1.1" opacity="0.9"/>
<line x1="617.0" y1="520.8" x2="617.0" y2="687.5" stroke="#c9cccf" stroke-width="1.1" opacity="0.9"/>
<line x1="673.6" y1="520.8" x2="673.6" y2="687.5" stroke="#c9cccf" stroke-width="1.1" opacity="0.9"/>
<line x1="730.2" y1="520.8" x2="730.2" y2="687.5" stroke="#c9cccf" stroke-width="1.1" opacity="0.9"/>
<line x1="786.7" y1="520.8" x2="786.7" y2="687.5" stroke="#c9cccf" stroke-width="1.1" opacity="0.9"/>
<line x1="843.3" y1="520.8" x2="843.3" y2="687.5" stroke="#c9cccf" stroke-width="1.1" opacity="0.9"/>
<line x1="899.9" y1="520.8" x2="899.9" y2="687.5" stroke="#c9cccf" stroke-width="1.1" opacity="0.9"/>
<line x1="956.5" y1="520.8" x2="956.5" y2="687.5" stroke="#c9cccf" stroke-width="1.1" opacity="0.9"/>
<line x1="51.2" y1="654.1" x2="959.2" y2="654.1" stroke="#c9cccf" stroke-width="1.1" opacity="0.9"/>
<line x1="51.2" y1="620.6" x2="959.2" y2="620.6" stroke="#c9cccf" stroke-width="1.1" opacity="0.9"/>
<line x1="51.2" y1="587.2" x2="959.2" y2="587.2" stroke="#c9cccf" stroke-width="1.1" opacity="0.9"/>
<line x1="51.2" y1="553.8" x2="959.2" y2="553.8" stroke="#c9cccf" stroke-width="1.1" opacity="0.9"/>
<line x1="51.2" y1="687.3" x2="959.2" y2="687.3" stroke="#a0a0a0" stroke-width="1.2"/>
<polyline points="51.2,612.3 61.7,611.2 72.3,610.0 82.8,608.9 93.3,607.7 103.9,606.6 114.4,605.5 124.9,604.4 135.4,603.2 146.0,602.1" fill="none" stroke="#10457f" stroke-width="1.0" />
<polyline points="142.7,602.5 156.3,601.0 169.9,599.6 183.5,598.2 197.2,596.7 210.8,595.3 224.4,593.9 238.0,592.5 251.6,591.1 265.3,589.6 278.9,588.2 292.5,586.7 306.1,585.2 319.7,583.7 333.3,582.2 347.0,580.6 360.6,579.0 374.2,577.5 387.8,575.9 401.4,574.3 781.1,574.3" fill="none" stroke="#10457f" stroke-width="2.5" stroke-linejoin="round"/>
<polyline points="51.2,619.7 69.6,618.1 88.1,616.5 106.5,614.9 124.9,613.2 143.4,611.5 161.8,609.8 180.2,608.0 198.7,606.2 217.1,604.5 235.5,602.8 254.0,601.2 272.4,599.6 290.8,597.9 309.3,596.2 327.7,594.4 346.1,592.7 364.6,591.0 383.0,589.2 401.4,587.5 781.1,587.5" fill="none" stroke="#10457f" stroke-width="1.0" />
<polyline points="51.2,631.4 59.9,630.5 68.7,629.6 77.4,628.7 86.2,627.8 94.9,626.9 103.6,626.1 112.4,625.2 121.1,624.4 129.8,623.6" fill="none" stroke="#10457f" stroke-width="0.9" />
<polyline points="129.8,623.6 135.7,623.1 141.5,622.5 147.4,622.0 153.2,621.5 159.0,621.0 164.9,620.6 170.7,620.1 176.5,619.6 182.4,619.1 188.2,618.7 194.0,618.2 199.9,617.7 205.7,617.2 211.5,616.8 217.4,616.3 223.2,615.8 229.0,615.4 234.9,614.9 240.7,614.4 246.5,614.0 252.4,613.5 258.2,613.0 264.1,612.5 269.9,612.1 275.7,611.6 281.6,611.1 287.4,610.7 293.2,610.2 299.1,609.7 304.9,609.3 310.7,608.8 316.6,608.3 322.4,607.8 328.2,607.4 334.1,606.9 339.9,606.4 345.7,605.9 351.6,605.4 357.4,604.9 363.3,604.4 369.1,603.9 374.9,603.4 380.8,602.8 386.6,602.3 392.4,601.7 398.3,601.2 404.1,600.6 409.9,600.0 415.8,599.5 421.6,598.9 427.4,598.3 433.3,597.7 439.1,597.1 444.9,596.5 450.8,595.9 456.6,595.3 462.5,594.7 468.3,594.1 474.1,593.5 480.0,592.9 485.8,592.3 491.6,591.8 497.5,591.2 503.3,590.7 509.1,590.1 515.0,589.6 520.8,589.1 526.6,588.5 532.5,588.0 538.3,587.5 544.1,587.0 550.0,586.5 555.8,586.0 561.6,585.5 567.5,585.0 573.3,584.5 579.2,584.0 585.0,583.5 590.8,583.0 596.7,582.5 602.5,582.0 608.3,581.5 614.2,581.0 620.0,580.5 625.8,580.0 631.7,579.5 637.5,579.0 643.3,578.5 649.2,578.0 655.0,577.5 660.8,577.0 666.7,576.4 672.5,575.9 678.4,575.4 684.2,574.8 690.0,574.3 695.9,574.3 701.7,574.3 707.5,574.3" fill="none" stroke="#10457f" stroke-width="2.3" stroke-linecap="round"/>
<polyline points="51.2,636.6 59.9,635.9 68.7,635.2 77.4,634.4 86.2,633.7 94.9,633.0 103.6,632.3 112.4,631.7 121.1,631.0 129.8,630.3" fill="none" stroke="#10457f" stroke-width="0.9" />
<polyline points="129.8,630.3 135.5,629.9 141.2,629.4 146.8,629.0 152.5,628.6 158.2,628.2 163.8,627.8 169.5,627.4 175.2,627.0 180.8,626.6 186.5,626.2 192.1,625.7 197.8,625.3 203.5,624.8 209.1,624.4 214.8,623.9 220.5,623.3 226.1,622.8 231.8,622.2 237.5,621.7 243.1,621.2 248.8,620.7 254.4,620.2 260.1,619.7 265.8,619.3 271.4,618.8 277.1,618.4 282.8,618.0 288.4,617.5 294.1,617.1 299.8,616.7 305.4,616.3 311.1,615.9 316.7,615.4 322.4,615.0 328.1,614.6 333.7,614.2 339.4,613.8 345.1,613.4 350.7,612.9 356.4,612.5 362.1,612.1 367.7,611.7 373.4,611.2 379.0,610.8 384.7,610.3 390.4,609.9 396.0,609.4 401.7,608.9 407.4,608.4 413.0,608.0 418.7,607.5 424.4,607.0 430.0,606.5 435.7,606.0 441.4,605.5 447.0,605.0 452.7,604.6 458.3,604.1 464.0,603.6 469.7,603.1 475.3,602.6 481.0,602.2 486.7,601.7 492.3,601.2 498.0,600.8 503.7,600.3 509.3,599.9 515.0,599.4 520.6,599.0 526.3,598.5 532.0,598.1 537.6,597.7 543.3,597.2 549.0,596.8 554.6,596.4 560.3,596.0 566.0,595.5 571.6,595.1 577.3,594.7 582.9,594.3 588.6,593.8 594.3,593.4 599.9,593.0 605.6,592.6 611.3,592.2 616.9,591.7 622.6,591.3 628.3,590.9 633.9,590.5 639.6,590.1 645.2,589.6 650.9,589.2 656.6,588.8 662.2,588.3 667.9,587.9 673.6,587.5 679.2,587.5 684.9,587.5 690.6,587.5" fill="none" stroke="#10457f" stroke-width="1.1" stroke-linecap="round"/>
<polyline points="51.2,639.7 59.9,639.1 68.7,638.4 77.4,637.8 86.2,637.1 94.9,636.5 103.6,635.8 112.4,635.1 121.1,634.4 129.8,633.7" fill="none" stroke="#10457f" stroke-width="0.9" />
<polyline points="129.8,633.7 137.4,633.1 144.9,632.5 152.5,631.8 160.0,631.2 167.6,630.5 175.1,629.9 182.7,629.2 190.2,628.6 197.7,628.0 205.3,627.5 212.8,627.0 220.4,626.5 227.9,626.1 235.5,625.6 243.0,625.2 250.6,624.7 258.1,624.2 265.6,623.6 273.2,623.1 280.7,622.6 288.3,622.0 295.8,621.5 303.4,620.9 310.9,620.3 318.4,619.8 326.0,619.2 333.5,618.6 341.1,618.0 348.6,617.5 356.2,616.9 363.7,616.3 371.3,615.7 378.8,615.2 386.3,614.6 393.9,614.0 401.4,613.5 409.0,612.9 416.5,612.3 424.1,611.7 431.6,611.1 439.2,610.5 446.7,610.0 454.2,609.4 461.8,608.8 469.3,608.2 476.9,607.7 484.4,607.1 492.0,606.6 499.5,606.0 507.0,605.5 514.6,604.9 522.1,604.4 529.7,603.8 537.2,603.3 544.8,602.7 552.3,602.2 559.9,601.6 567.4,601.0 574.9,600.5 582.5,599.9 590.0,599.4 597.6,598.8 605.1,598.3 612.7,597.7 620.2,597.2 627.8,596.6 635.3,596.1 642.8,595.6 650.4,595.1 657.9,594.6 665.5,594.1 673.0,593.6 680.6,593.1 688.1,592.6 695.6,592.2 703.2,591.7 710.7,591.3 718.3,590.9 725.8,590.5 733.4,590.1 740.9,589.7 748.5,589.4 756.0,589.1 763.5,588.7 771.1,588.4 778.6,588.1 786.2,587.8 793.7,587.5 801.3,587.3 808.8,587.1 816.4,587.1 823.9,587.1 831.4,587.1 839.0,587.1 846.5,587.1 854.1,587.2 861.6,587.3 869.2,587.4 876.7,587.6" fill="none" stroke="#10457f" stroke-width="2.4" stroke-linecap="round"/>
<polyline points="51.2,634.5 59.9,633.7 68.7,632.9 77.4,632.1 86.2,631.3 94.9,630.5 103.6,629.8 112.4,629.0 121.1,628.3 129.8,627.5" fill="none" stroke="#10457f" stroke-width="0.9" />
<polyline points="129.8,627.5 137.4,626.9 144.9,626.2 152.5,625.6 160.0,625.0 167.6,624.4 175.1,623.7 182.7,623.1 190.2,622.5 197.7,621.9 205.3,621.2 212.8,620.6 220.4,620.0 227.9,619.4 235.5,618.7 243.0,618.1 250.6,617.5 258.1,616.9 265.6,616.2 273.2,615.6 280.7,615.0 288.3,614.4 295.8,613.8 303.4,613.2 310.9,612.6 318.4,611.9 326.0,611.3 333.5,610.7 341.1,610.1 348.6,609.4 356.2,608.8 363.7,608.1 371.3,607.5 378.8,606.8 386.3,606.1 393.9,605.4 401.4,604.7 409.0,604.0 416.5,603.2 424.1,602.4 431.6,601.7 439.2,600.9 446.7,600.1 454.2,599.4 461.8,598.6 469.3,597.9 476.9,597.2 484.4,596.5 492.0,595.8 499.5,595.1 507.0,594.5 514.6,593.9 522.1,593.2 529.7,592.6 537.2,592.0 544.8,591.3 552.3,590.7 559.9,590.1 567.4,589.5 574.9,588.9 582.5,588.3 590.0,587.7 597.6,587.1 605.1,586.5 612.7,585.9 620.2,585.3 627.8,584.7 635.3,584.2 642.8,583.6 650.4,583.1 657.9,582.5 665.5,582.0 673.0,581.4 680.6,580.9 688.1,580.4 695.6,579.9 703.2,579.4 710.7,578.9 718.3,578.5 725.8,578.0 733.4,577.5 740.9,577.1 748.5,576.7 756.0,576.3 763.5,575.9 771.1,575.4 778.6,575.1 786.2,574.8 793.7,574.6 801.3,574.4 808.8,574.2 816.4,574.1 823.9,574.1 831.4,574.1 839.0,574.2 846.5,574.2 854.1,574.3 861.6,574.4 869.2,574.6 876.7,574.8" fill="none" stroke="#10457f" stroke-width="3.8" stroke-linecap="round"/>
<polyline points="51.2,686.1 58.9,685.9 66.7,685.7 74.4,685.5" fill="none" stroke="#10457f" stroke-width="1.0" />
<polyline points="74.4,685.0 88.6,685.0 102.9,684.9 117.1,684.8 131.3,684.8 145.6,684.7 159.8,684.6 174.0,684.6 188.3,684.5 202.5,684.4 216.7,684.4 231.0,684.3 245.2,684.2 259.4,684.2 273.7,684.1 287.9,684.0 302.1,684.0 316.4,683.9 330.6,683.8 344.9,683.8" fill="none" stroke="#10457f" stroke-width="2.4" />
<polyline points="74.4,687.3 79.0,687.3 83.6,687.3 88.1,687.3 92.7,687.3 97.3,687.3 101.9,687.3 106.5,687.3 111.1,687.3 115.7,687.3 120.2,687.3 124.8,687.3 129.4,687.3 134.0,687.3 138.6,687.3 143.2,687.3 147.7,687.3 152.3,687.3 156.9,687.3 161.5,687.3 166.1,687.3 170.7,687.3 175.2,687.3 179.8,687.3 184.4,687.3 189.0,687.3 193.6,687.2 198.2,687.2 202.7,687.2 207.3,687.2 211.9,687.2 216.5,687.2 221.1,687.2 225.7,687.2 230.3,687.2 234.8,687.2 239.4,687.2 244.0,687.1 248.6,687.1 253.2,687.1 257.8,687.0 262.3,686.9 266.9,686.7 271.5,686.5 276.1,686.3 280.7,686.0 285.3,685.7 289.8,685.3 294.4,684.9 299.0,684.4 303.6,683.7 308.2,682.7 312.8,681.7 317.3,680.6 321.9,679.5 326.5,678.3 331.1,676.9 335.7,675.5 340.3,673.9 344.9,672.3" fill="none" stroke="#000" stroke-width="2.1" stroke-linecap="round"/>
<polyline points="51.2,682.6 70.9,682.6 90.5,682.6 110.2,682.5 129.8,682.5" fill="none" stroke="#000" stroke-width="1.0" />
<polyline points="129.8,682.5 136.1,682.5 142.4,682.5 148.7,682.4 155.0,682.4 161.2,682.4 167.5,682.4 173.8,682.4 180.1,682.4 186.3,682.4 192.6,682.4 198.9,682.4 205.2,682.3 211.4,682.3 217.7,682.3 224.0,682.3 230.3,682.3 236.5,682.3 242.8,682.3 249.1,682.3 255.4,682.3 261.6,682.2 267.9,682.2 274.2,682.2 280.5,682.2 286.7,682.2 293.0,682.2 299.3,682.2 305.6,682.2 311.9,682.1 318.1,682.1 324.4,682.1 330.7,682.1 337.0,682.1 343.2,682.1 349.5,682.1 355.8,682.0 362.1,682.0 368.3,682.0 374.6,682.0 380.9,682.0 387.2,682.0 393.4,681.9 399.7,681.9 406.0,681.9 412.3,681.9 418.5,681.9 424.8,681.9 431.1,681.8 437.4,681.8 443.7,681.8 449.9,681.8 456.2,681.8 462.5,681.8 468.8,681.7 475.0,681.7 481.3,681.7 487.6,681.7 493.9,681.7 500.1,681.6 506.4,681.6 512.7,681.6 519.0,681.6 525.2,681.5 531.5,681.5 537.8,681.5 544.1,681.5 550.3,681.5 556.6,681.4 562.9,681.4 569.2,681.4 575.4,681.4 581.7,681.3 588.0,681.3 594.3,681.3 600.6,681.2 606.8,681.2 613.1,681.2 619.4,681.1 625.7,681.1 631.9,681.1 638.2,681.0 644.5,681.0 650.8,681.0 657.0,681.0 663.3,680.9 669.6,680.9 675.9,680.8 682.1,680.8 688.4,680.8 694.7,680.7 701.0,680.7 707.2,680.6 713.5,680.6 719.8,680.5 726.1,680.4 732.4,680.4 738.6,680.3 744.9,680.2 751.2,680.1 757.5,680.0 763.7,679.9 770.0,679.8 776.3,679.6 782.6,679.3 788.8,679.0 795.1,678.7 801.4,678.3 807.7,677.8 813.9,677.1 820.2,676.4 826.5,675.5 832.8,674.5 839.0,673.3 845.3,671.8 851.6,669.7 857.9,667.1 864.1,664.1 870.4,660.5 876.7,656.4" fill="none" stroke="#000" stroke-width="4.2" stroke-linecap="round"/>
<circle cx="762.4" cy="575.8" r="6" fill="#f00"/>
<circle cx="762.4" cy="588.8" r="6" fill="#f00"/>
<circle cx="762.4" cy="680.0" r="6" fill="#f00"/>
<text x="751.4" y="563.8" text-anchor="start" fill="#1f4e83" font-size="16.6" letter-spacing="0.233">P1 (motor+freq.converter)</text>
<text x="865.6" y="603.6" text-anchor="start" fill="#1f4e83" font-size="16.6">P2</text>
<line x1="50.4" y1="520.8" x2="959.2" y2="520.8" stroke="#000" stroke-width="1.3"/>
<line x1="51.8" y1="520.8" x2="51.8" y2="688.4" stroke="#000" stroke-width="1.8"/>
<line x1="959.2" y1="520.8" x2="959.2" y2="688.4" stroke="#000" stroke-width="2.1"/>
<line x1="44.0" y1="687.5" x2="51.2" y2="687.5" stroke="#000" stroke-width="2"/>
<text x="39.3" y="692.3" text-anchor="end" fill="#000" font-size="16.6">0.0</text>
<line x1="44.0" y1="654.1" x2="51.2" y2="654.1" stroke="#000" stroke-width="2"/>
<text x="39.3" y="658.9" text-anchor="end" fill="#000" font-size="16.6">0.5</text>
<line x1="44.0" y1="620.6" x2="51.2" y2="620.6" stroke="#000" stroke-width="2"/>
<text x="39.3" y="625.4" text-anchor="end" fill="#000" font-size="16.6">1.0</text>
<line x1="44.0" y1="587.2" x2="51.2" y2="587.2" stroke="#000" stroke-width="2"/>
<text x="39.3" y="592.0" text-anchor="end" fill="#000" font-size="16.6">1.5</text>
<line x1="44.0" y1="553.8" x2="51.2" y2="553.8" stroke="#000" stroke-width="2"/>
<line x1="959.2" y1="687.5" x2="966.8" y2="687.5" stroke="#000" stroke-width="2"/>
<text x="971.3" y="692.3" text-anchor="start" fill="#000" font-size="16.6">0</text>
<line x1="959.2" y1="654.1" x2="966.8" y2="654.1" stroke="#000" stroke-width="2"/>
<text x="971.3" y="658.9" text-anchor="start" fill="#000" font-size="16.6">5</text>
<line x1="959.2" y1="620.6" x2="966.8" y2="620.6" stroke="#000" stroke-width="2"/>
<text x="971.3" y="625.4" text-anchor="start" fill="#000" font-size="16.6">10</text>
<line x1="959.2" y1="587.2" x2="966.8" y2="587.2" stroke="#000" stroke-width="2"/>
<text x="971.3" y="592.0" text-anchor="start" fill="#000" font-size="16.6">15</text>
<line x1="959.2" y1="553.8" x2="966.8" y2="553.8" stroke="#000" stroke-width="2"/>
<text x="25.6" y="534.7" text-anchor="middle" fill="#000" font-size="16.6">P</text>
<text x="24.9" y="554.5" text-anchor="middle" fill="#000" font-size="17">[kW]</text>
<text x="968.0" y="534.7" text-anchor="start" fill="#000" font-size="16.6" letter-spacing="-0.183">NPSH</text>
<text x="990.1" y="554.5" text-anchor="middle" fill="#000" font-size="17">[m]</text>
</svg>
</body></html>
